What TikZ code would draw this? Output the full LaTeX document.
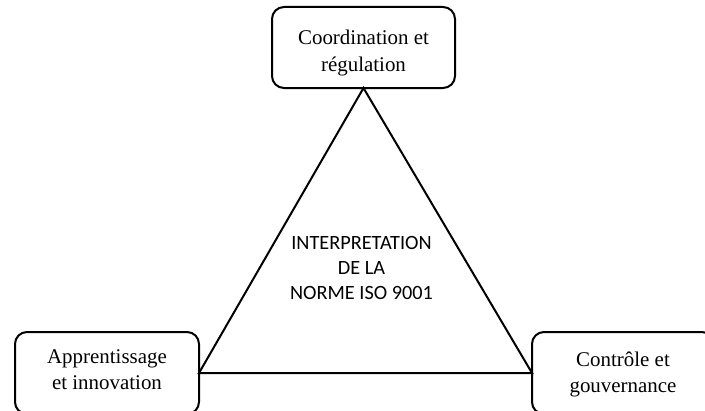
\documentclass[tikz,border=0pt]{standalone}
\usepackage{fontspec}
\setmainfont{Liberation Serif}
\newfontfamily\calfont{Carlito}
\begin{document}
\begin{tikzpicture}[x=0.75pt,y=-0.75pt,
  box/.style={draw=black,line width=1.5pt,rounded corners=9pt,inner sep=0pt,outer sep=0pt},
  boxtext/.style={align=center,inner sep=0pt,font=\fontsize{15.7}{19.9}\selectfont},
  midtext/.style={align=center,inner sep=0pt,font=\calfont\fontsize{15.2}{19.1}\selectfont},
  edge/.style={draw=black,line width=1.5pt}]
\useasboundingbox (0,0) rectangle (705,410);
\clip (0,0) rectangle (705,410);
\fill[white] (0,0) rectangle (705,410);
% boxes
\node[box,minimum width=137.25pt,minimum height=60.75pt] (top) at (363.5,47.5) {};
\node[box,minimum width=138pt,minimum height=61.5pt] (left) at (107,373) {};
\node[box,minimum width=136.5pt,minimum height=61.5pt] (right) at (623,373) {};
% texts
\node[boxtext] (toptxt) at (363.5,53) {Coordination et\\régulation};
\node[boxtext] (lefttxt) at (107,369.5) {Apprentissage\\et innovation};
\node[boxtext] (righttxt) at (623,374.5) {Contrôle et\\gouvernance};
\node[midtext] (mid) at (361.5,268) {INTERPRETATION\\DE LA\\NORME ISO 9001};
% triangle
\draw[edge,line join=miter] (top.south) -- (left.east) -- (right.west) -- cycle;
\end{tikzpicture}
\end{document}
